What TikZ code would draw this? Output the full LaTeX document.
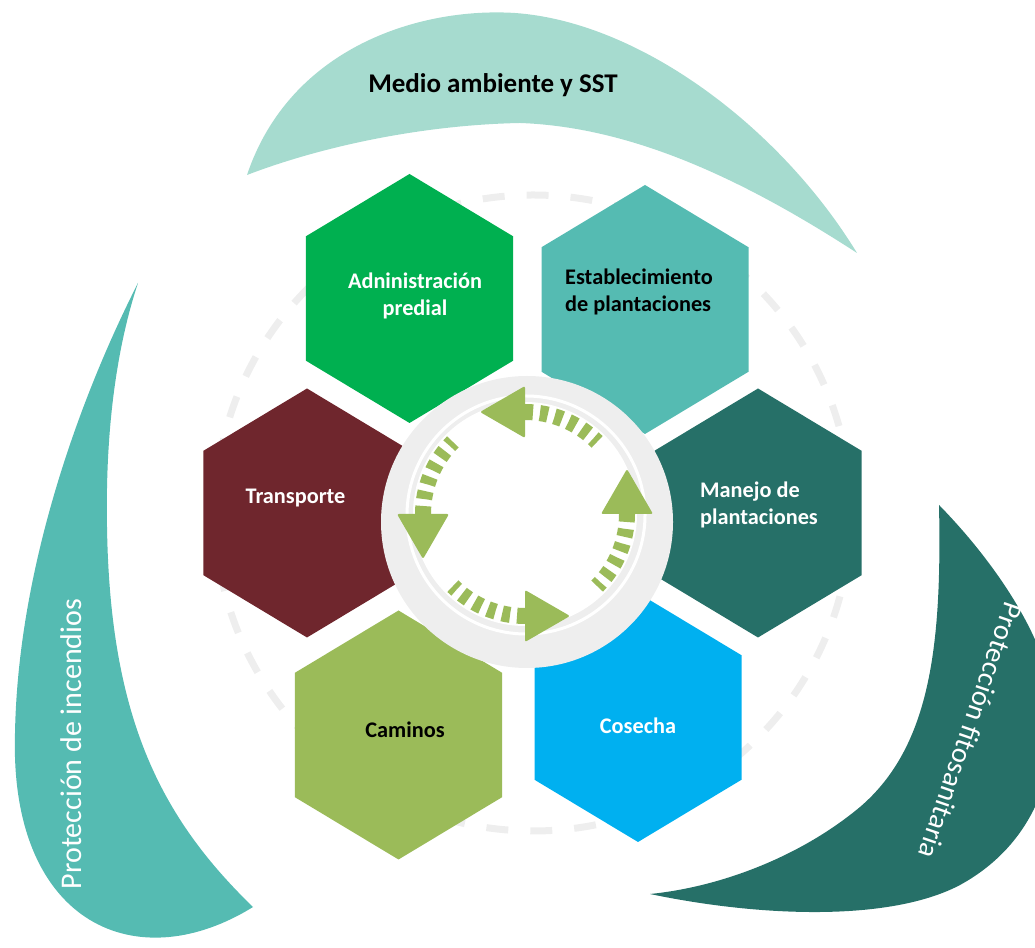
\documentclass[tikz,border=0pt]{standalone}
\usepackage{fontspec}
\setmainfont{Carlito}
\usetikzlibrary{shapes.geometric, positioning}

\definecolor{hexadm}{HTML}{00B050}
\definecolor{hexest}{HTML}{55BBB2}
\definecolor{hexman}{HTML}{267068}
\definecolor{hexcos}{HTML}{00B0F0}
\definecolor{hexcam}{HTML}{9BBB59}
\definecolor{hextra}{HTML}{6F262D}
\definecolor{leafmed}{HTML}{A6DBCF}
\definecolor{ringgray}{HTML}{EEEEEE}

\tikzset{
  hexa/.style={regular polygon, regular polygon sides=6, shape border rotate=30,
    minimum size=249pt, xscale=0.96, inner sep=0pt, draw=none},
  hexlbl/.style={font=\bfseries\fontsize{22.3}{27}\selectfont, align=center},
  leaflbl/.style={font=\fontsize{30}{34}\selectfont, text=white},
  guide/.style={draw=ringgray, line width=7pt, dash pattern=on 22pt off 22pt},
  cycdash/.style={draw=hexcam, line width=16pt, dash pattern=on 8pt off 7pt},
}

\begin{document}
\begin{tikzpicture}[x=1pt,y=1pt]
\useasboundingbox (0,0) rectangle (1035,947);

\begin{scope}
\clip (0,0) rectangle (1035,947);
% outer leaves
\fill[leafmed] (247,772) .. controls (290,900) and (420,940) .. (515,934)
  .. controls (640,925) and (780,820) .. (857,694)
  .. controls (740,770) and (630,820) .. (520,824)
  .. controls (420,822) and (320,800) .. (247,772) -- cycle;
\fill[hexest] (138,664) .. controls (75,540) and (12,360) .. (15,190)
  .. controls (20,20) and (140,-30) .. (253,40)
  .. controls (160,130) and (110,230) .. (107,420)
  .. controls (105,530) and (120,610) .. (138,664) -- cycle;
\fill[hexman] (939,442) .. controls (942,300) and (930,200) .. (860,140)
  .. controls (800,90) and (720,60) .. (650,53)
  .. controls (760,30) and (890,25) .. (960,62)
  .. controls (1020,95) and (1050,150) .. (1055,220)
  .. controls (1058,300) and (990,390) .. (939,442) -- cycle;
\end{scope}

\coordinate (ctr) at (525,433);
\draw[guide] (533,434) circle[radius=318];

% hexagons
\node[hexa, fill=hexadm] (adm) at (409.5,648.5) {};
\node[hexa, fill=hexest] (est) at (645,637.5) {};
\node[hexa, fill=hexman] (man) at (758,434) {};
\node[hexa, fill=hexcos] (cos) at (638,229.5) {};
\node[hexa, fill=hexcam] (cam) at (398.5,212) {};
\node[hexa, fill=hextra] (tra) at (307,434) {};

% ring in the middle
\fill[ringgray] (527,425) circle[radius=146];
\draw[white, line width=3pt] (526,432) circle[radius=119];
\fill[white] (ctr) circle[radius=112];

\foreach \a in {0,90,180,270}{
  \begin{scope}[shift={(ctr)}, rotate=\a]
    \draw[cycdash] (0:102) arc[start angle=0, end angle=-45, radius=102];
    \fill[hexcam, rounded corners=2pt] (128,0) -- (76,0) -- (102,45) -- cycle;
  \end{scope}
}

% labels
\node[hexlbl, text=white] (adm-t) at (415,651) {Adninistración\\predial};
\node[hexlbl, align=left] (est-t) at (639,655) {Establecimiento\\de plantaciones};
\node[hexlbl, align=left, text=white] (man-t) at (759,442) {Manejo de\\plantaciones};
\node[hexlbl, text=white] (cos-t) at (638,221) {Cosecha};
\node[hexlbl] (cam-t) at (405,217) {Caminos};
\node[hexlbl, text=white] (tra-t) at (295.5,449) {Transporte};

\node[font=\bfseries\fontsize{27}{32}\selectfont] (med-t) at (493,862) {Medio ambiente y SST};
\node[leaflbl, rotate=90] (inc-t) at (71,203) {Protección de incendios};
\node[leaflbl, font=\fontsize{28.5}{34}\selectfont, rotate=-109] (fit-t) at (971,216) {Protección fitosanitaria};
\end{tikzpicture}
\end{document}
